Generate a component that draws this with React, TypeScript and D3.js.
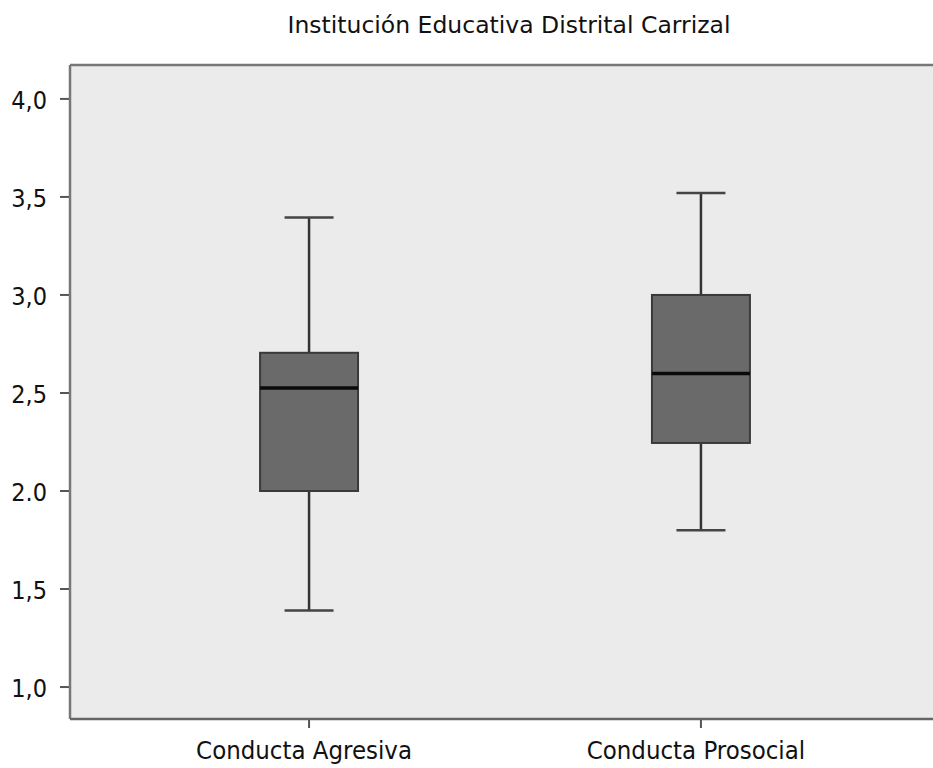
import React from "react";
import * as d3 from "d3";

const categories = ["Conducta Agresiva", "Conducta Prosocial"];
const whiskerLow = [1.39, 1.8];
const q1 = [2.0, 2.245];
const median = [2.525, 2.6];
const q3 = [2.705, 3.0];
const whiskerHigh = [3.395, 3.52];
const yTicks = [1.0, 1.5, 2.0, 2.5, 3.0, 3.5, 4.0];
const yTickLabels = ["1,0", "1,5", "2.0", "2,5", "3,0", "3,5", "4,0"];
const title = "Institución Educativa Distrital Carrizal";

const W = 933;
const H = 768;
const FONT_C = "'DejaVu Sans Condensed', 'DejaVu Sans', sans-serif";
const FONT_R = "'DejaVu Sans', sans-serif";

export default function App() {
  const left = 70;
  const top = 65;
  const bottom = 719;
  const right = 940;

  const y = d3.scaleLinear().domain([0.837, 4.173]).range([bottom, top]);
  const x = d3
    .scaleBand<string>()
    .domain(categories)
    .range([left, right])
    .paddingOuter(0.11)
    .paddingInner(0);
  const step = x.step();
  const boxW = step * 0.25;
  const capW = boxW * 0.5;

  return (
    <svg
      width={W}
      height={H}
      style={{ position: "absolute", left: 0, top: 0, background: "#fff" }}
    >
      <rect x={left} y={top} width={right - left} height={bottom - top} fill="#ebebeb" />
      <text
        x={509}
        y={33}
        textAnchor="middle"
        fontFamily={FONT_R}
        fontSize={23.5}
        fill="#111"
      >
        {title}
      </text>
      {categories.map((c, i) => {
        const cx = (x(c) as number) + x.bandwidth() / 2;
        return (
          <g key={c}>
            <line x1={cx} x2={cx} y1={y(q3[i])} y2={y(whiskerHigh[i])} stroke="#333" strokeWidth={2.5} />
            <line x1={cx} x2={cx} y1={y(q1[i])} y2={y(whiskerLow[i])} stroke="#333" strokeWidth={2.5} />
            <line x1={cx - capW / 2} x2={cx + capW / 2} y1={y(whiskerHigh[i])} y2={y(whiskerHigh[i])} stroke="#444" strokeWidth={2.5} />
            <line x1={cx - capW / 2} x2={cx + capW / 2} y1={y(whiskerLow[i])} y2={y(whiskerLow[i])} stroke="#444" strokeWidth={2.5} />
            <rect
              x={cx - boxW / 2}
              y={y(q3[i])}
              width={boxW}
              height={y(q1[i]) - y(q3[i])}
              fill="#6a6a6a"
              stroke="#3a3a3a"
              strokeWidth={2}
            />
            <line x1={cx - boxW / 2} x2={cx + boxW / 2} y1={y(median[i])} y2={y(median[i])} stroke="#0a0a0a" strokeWidth={3.5} />
            <line x1={cx} x2={cx} y1={bottom} y2={bottom + 9} stroke="#555" strokeWidth={2} />
            <text
              x={cx - 5}
              y={759}
              textAnchor="middle"
              fontFamily={FONT_C}
              fontSize={25.5}
              fill="#111"
            >
              {c}
            </text>
          </g>
        );
      })}
      {yTicks.map((t, i) => (
        <g key={t}>
          <line x1={left - 10} x2={left} y1={y(t)} y2={y(t)} stroke="#555" strokeWidth={2} />
          <text
            x={47}
            y={y(t) + 10}
            textAnchor="end"
            fontFamily={FONT_C}
            fontSize={25}
            fill="#111"
          >
            {yTickLabels[i]}
          </text>
        </g>
      ))}
      <line x1={left} x2={left} y1={top} y2={bottom} stroke="#777" strokeWidth={2.5} />
      <line x1={left} x2={right} y1={top} y2={top} stroke="#777" strokeWidth={2.5} />
      <line x1={left} x2={right} y1={bottom} y2={bottom} stroke="#666" strokeWidth={2.5} />
    </svg>
  );
}
